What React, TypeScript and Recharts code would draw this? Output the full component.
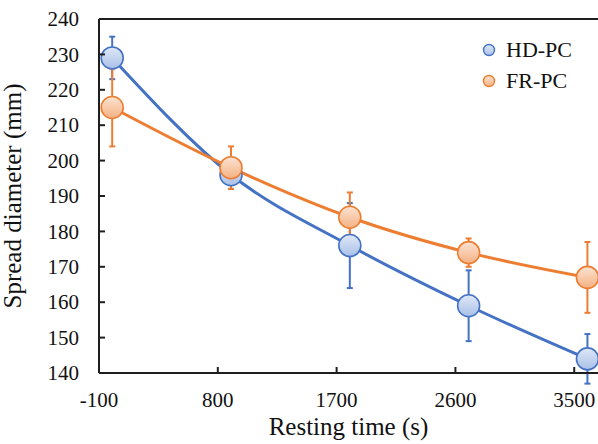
import { ComposedChart, Scatter, Line, XAxis, YAxis, ErrorBar, ReferenceLine } from 'recharts';

// Resting time (s)
const times = [0, 900, 1800, 2700, 3600];
// Spread diameter (mm)
const hdpc = [229, 196, 176, 159, 144];
const hdpcErr = [6, 4, 12, 10, 7];
const frpc = [215, 198, 184, 174, 167];
const frpcErr = [11, 6, 7, 4, 10];

const xTicks = [-100, 800, 1700, 2600, 3500];
const yTicks = [140, 150, 160, 170, 180, 190, 200, 210, 220, 230, 240];

const data = times.map((t, i) => ({
  t,
  hd: hdpc[i],
  hdErr: hdpcErr[i],
  fr: frpc[i],
  frErr: frpcErr[i],
}));

const FONT = '"Liberation Serif", "Times New Roman", serif';
const AXIS = '#1e1e1e';
const BLUE = '#4472c4';
const ORANGE = '#ed7d31';

const series = [
  { name: 'HD-PC', grad: 'gBlue', stroke: BLUE, top: '#dfe8f6', bottom: '#a9c0e8' },
  { name: 'FR-PC', grad: 'gOrange', stroke: ORANGE, top: '#fce3d2', bottom: '#f4b183' },
];

const YTick = (props: any) => {
  const { x, y, payload } = props;
  return (
    <g>
      <line x1={x} y1={y} x2={x + 6} y2={y} stroke={AXIS} strokeWidth={2} />
      <text x={x - 20} y={y} dy="0.34em" textAnchor="end" fontFamily={FONT} fontSize={21} fill="#111">
        {payload.value}
      </text>
    </g>
  );
};

const XTick = (props: any) => {
  const { x, y, payload } = props;
  return (
    <g>
      <line x1={x} y1={y} x2={x} y2={y - 6} stroke={AXIS} strokeWidth={2} />
      <text x={x} y={y + 34} textAnchor="middle" fontFamily={FONT} fontSize={21} fill="#111">
        {payload.value}
      </text>
    </g>
  );
};

const marker = (grad: string, stroke: string) => (props: any) => {
  const { cx, cy } = props;
  if (cx == null || cy == null) return <g />;
  return <circle cx={cx} cy={cy} r={11} fill={`url(#${grad})`} stroke={stroke} strokeWidth={1.6} />;
};

const LegendBox = () => (
  <div style={{ position: 'absolute', left: 482, top: 34, fontFamily: FONT, fontSize: 22, color: '#111', lineHeight: '31px' }}>
    {series.map((item) => (
      <div key={item.name} style={{ display: 'flex', alignItems: 'center' }}>
        <svg width={14} height={14} style={{ marginRight: 10 }}>
          <defs>
            <linearGradient id={item.grad + 'L'} x1="0" y1="0" x2="0" y2="1">
              <stop offset="0%" stopColor={item.top} />
              <stop offset="100%" stopColor={item.bottom} />
            </linearGradient>
          </defs>
          <circle cx={7} cy={7} r={5.5} fill={`url(#${item.grad}L)`} stroke={item.stroke} strokeWidth={1.4} />
        </svg>
        <span>{item.name}</span>
      </div>
    ))}
  </div>
);

export default function App() {
  return (
    <div style={{ position: 'absolute', left: 0, top: 0, width: 598, height: 444, background: '#fff' }}>
      <ComposedChart width={598} height={444} data={data} margin={{ top: 19, right: 0, bottom: 0, left: 0 }}>
        <defs>
          {series.map((s) => (
            <linearGradient key={s.grad} id={s.grad} x1="0" y1="0" x2="0" y2="1">
              <stop offset="0%" stopColor={s.top} />
              <stop offset="100%" stopColor={s.bottom} />
            </linearGradient>
          ))}
        </defs>
        <XAxis
          dataKey="t"
          type="number"
          domain={[-100, 3680]}
          ticks={xTicks}
          allowDataOverflow
          height={71}
          tickSize={0}
          tickMargin={0}
          tick={<XTick />}
          axisLine={{ stroke: AXIS, strokeWidth: 2 }}
          label={{ value: 'Resting time (s)', position: 'insideBottom', offset: 9, style: { fontFamily: FONT, fontSize: 25, fill: '#111' } }}
        />
        <YAxis
          type="number"
          domain={[140, 240]}
          ticks={yTicks}
          allowDataOverflow
          width={99}
          tickSize={0}
          tickMargin={0}
          tick={<YTick />}
          axisLine={{ stroke: AXIS, strokeWidth: 2 }}
          label={{ value: 'Spread diameter (mm)', angle: -90, position: 'insideLeft', offset: 12, style: { fontFamily: FONT, fontSize: 25, fill: '#111', textAnchor: 'middle' } }}
        />
        <ReferenceLine y={240} stroke={AXIS} strokeWidth={2} />
        <Scatter dataKey="hd" name="HD-PC" shape={marker('gBlue', BLUE)} isAnimationActive={false}>
          <ErrorBar dataKey="hdErr" direction="y" width={3} stroke={BLUE} strokeWidth={2} />
        </Scatter>
        <Scatter dataKey="fr" name="FR-PC" shape={marker('gOrange', ORANGE)} isAnimationActive={false}>
          <ErrorBar dataKey="frErr" direction="y" width={3} stroke={ORANGE} strokeWidth={2} />
        </Scatter>
        <Line dataKey="hd" type="monotone" stroke={BLUE} strokeWidth={3} dot={false} activeDot={false} isAnimationActive={false} />
        <Line dataKey="fr" type="monotone" stroke={ORANGE} strokeWidth={3} dot={false} activeDot={false} isAnimationActive={false} />
      </ComposedChart>
      <LegendBox />
    </div>
  );
}
